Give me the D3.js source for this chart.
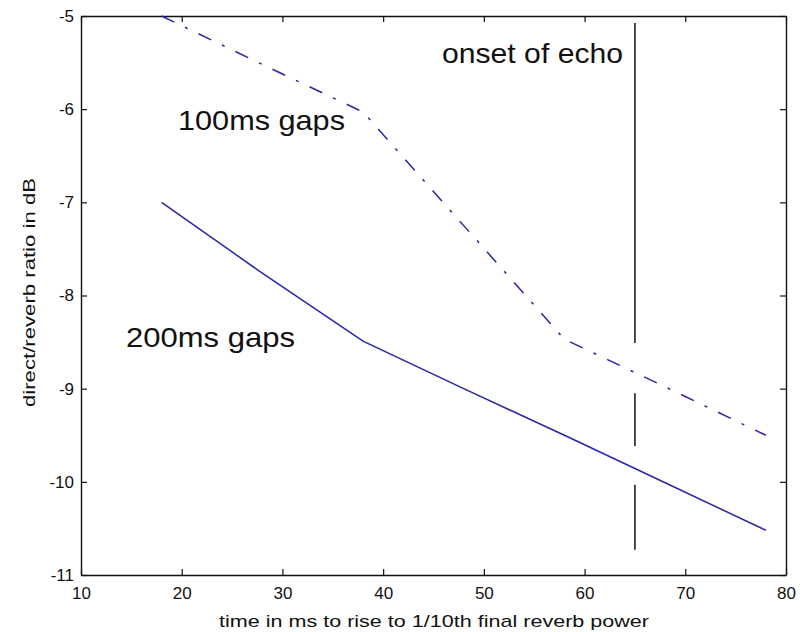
<!DOCTYPE html>
<html>
<head>
<meta charset="utf-8">
<script src="https://cdn.jsdelivr.net/npm/d3@7"></script>
<style>
  html, body { margin: 0; padding: 0; background: #fff; }
  svg { display: block; font-family: "Liberation Sans", Arial, sans-serif; }
</style>
</head>
<body>
<svg id="chart" width="800" height="632"></svg>
<script>
// ---- data ----
const timeMs = [18, 28, 38, 48, 58, 68, 78];
const gaps200 = [-7.0, -7.76, -8.49, -9.0, -9.5, -10.01, -10.52];
const gaps100 = [-5.0, -5.52, -6.03, -7.25, -8.47, -8.98, -9.5];
const xTicks = [10, 20, 30, 40, 50, 60, 70, 80];
const yTicks = [-5, -6, -7, -8, -9, -10, -11];
const echoOnset = 65;
const echoSegments = [[-5.075, -8.51], [-9.05, -9.615], [-10.03, -10.73]];
const labels = [
  { text: "100ms gaps", x: 178, y: 130, len: 167 },
  { text: "200ms gaps", x: 126, y: 347, len: 169 },
  { text: "onset of echo", x: 442, y: 63, len: 181 }
];
const xLabel = "time in ms to rise to 1/10th final reverb power";
const yLabel = "direct/reverb ratio in dB";

// ---- layout ----
const L = 81, R = 786, T = 16, B = 575;
const svg = d3.select("#chart");
const x = d3.scaleLinear().domain([10, 80]).range([L, R]);
const y = d3.scaleLinear().domain([-11, -5]).range([B, T]);

const lineColor = "#2626a8";
const fmt = d => String(d);

// axes
function styleAxis(g, showLabels) {
  g.selectAll("path.domain").attr("stroke", "#111").attr("stroke-width", 1.4);
  g.selectAll(".tick line").attr("stroke", "#111").attr("stroke-width", 1.2);
  g.selectAll(".tick text").attr("fill", "#111").style("font-size", "17px")
    .style("font-family", "'Liberation Sans', Arial, sans-serif");
  if (!showLabels) g.selectAll(".tick text").remove();
}

svg.append("g").attr("transform", `translate(0,${B})`)
  .call(d3.axisBottom(x).tickValues(xTicks).tickSizeInner(-6).tickSizeOuter(0).tickPadding(12).tickFormat(fmt))
  .call(g => styleAxis(g, true));
svg.append("g").attr("transform", `translate(0,${T})`)
  .call(d3.axisTop(x).tickValues(xTicks).tickSizeInner(-6).tickSizeOuter(0))
  .call(g => styleAxis(g, false));
svg.append("g").attr("transform", `translate(${L},0)`)
  .call(d3.axisLeft(y).tickValues(yTicks).tickSizeInner(-6).tickSizeOuter(0).tickPadding(7).tickFormat(fmt))
  .call(g => styleAxis(g, true));
svg.append("g").attr("transform", `translate(${R},0)`)
  .call(d3.axisRight(y).tickValues(yTicks).tickSizeInner(-6).tickSizeOuter(0))
  .call(g => styleAxis(g, false));

// echo onset line
svg.append("g").selectAll("line").data(echoSegments).join("line")
  .attr("x1", x(echoOnset)).attr("x2", x(echoOnset))
  .attr("y1", d => y(d[0])).attr("y2", d => y(d[1]))
  .attr("stroke", "#111").attr("stroke-width", 1.5);

// data lines
const line = d3.line().x(d => x(d[0])).y(d => y(d[1]));
svg.append("path").datum(timeMs.map((t, i) => [t, gaps200[i]]))
  .attr("d", line).attr("fill", "none").attr("stroke", lineColor).attr("stroke-width", 1.5);
svg.append("path").datum(timeMs.map((t, i) => [t, gaps100[i]]))
  .attr("d", line).attr("fill", "none").attr("stroke", lineColor).attr("stroke-width", 1.5)
  .attr("stroke-dasharray", "14,12,3,12");

// annotations
svg.append("g").selectAll("text").data(labels).join("text")
  .attr("x", d => d.x).attr("y", d => d.y)
  .attr("textLength", d => d.len).attr("lengthAdjust", "spacingAndGlyphs")
  .style("font-size", "28px").attr("fill", "#111")
  .text(d => d.text);

// axis titles
svg.append("text").attr("x", 219).attr("y", 627)
  .attr("textLength", 430).attr("lengthAdjust", "spacingAndGlyphs")
  .style("font-size", "17px").attr("fill", "#111").text(xLabel);
svg.append("text").attr("transform", "translate(35,407) rotate(-90)")
  .attr("x", 0).attr("y", 0)
  .attr("textLength", 229).attr("lengthAdjust", "spacingAndGlyphs")
  .style("font-size", "17px").attr("fill", "#111").text(yLabel);
</script>
</body>
</html>
